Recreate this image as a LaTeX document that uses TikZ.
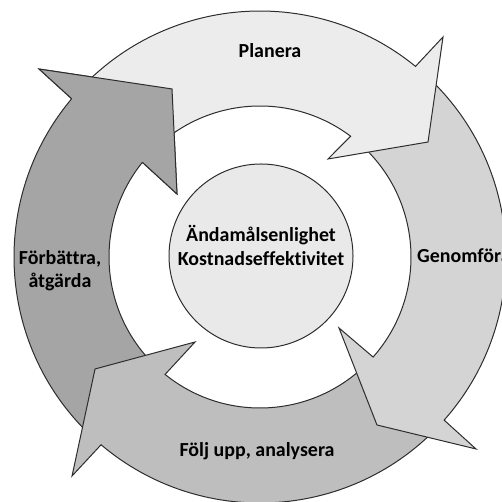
\documentclass[tikz,border=0pt]{standalone}
\usepackage{fontspec}
\setmainfont[Ligatures=NoCommon]{Carlito}
\definecolor{planfill}{RGB}{236,236,236}
\definecolor{genfill}{RGB}{212,212,212}
\definecolor{foljfill}{RGB}{190,190,190}
\definecolor{forbfill}{RGB}{165,165,165}
\definecolor{midfill}{RGB}{233,233,233}
\definecolor{edge}{RGB}{45,45,45}
\tikzset{
segment/.style={draw=edge, line width=1bp, line join=miter},
label/.style={font=\fontsize{20}{24}\selectfont\bfseries, inner sep=0pt, anchor=base}
}
\begin{document}
\begin{tikzpicture}[x=1bp, y=1bp]
\useasboundingbox (0,0) rectangle (502,502);
\begin{scope}[shift={(260,245)}]
% Förbättra, tail under the head of Följ upp
\draw[segment, fill=forbfill] (226:246) arc[start angle=226, end angle=139.96, radius=246] -- (139.61:290.1) -- (117.64:189.7) -- (142.8:104.2) -- (141.16:151) arc[start angle=141.16, end angle=226, radius=151] -- cycle;
% Följ upp
\draw[segment, fill=foljfill] (-44:246) arc[start angle=-44, end angle=-130.25, radius=246] -- (-130.64:288.6) -- (-145.83:199.4) -- (-127.4:107) -- (-128.95:151) arc[start angle=-128.95, end angle=-44, radius=151] -- cycle;
% Genomföra
\draw[segment, fill=genfill] (47:246) arc[start angle=47, end angle=-41.54, radius=246] -- (-41.63:289) -- (-55.15:204.7) -- (-41.94:106.2) -- (-41.5:151) arc[start angle=-41.5, end angle=47, radius=151] -- cycle;
% Planera
\draw[segment, fill=planfill] (136:246) arc[start angle=136, end angle=50.79, radius=246] -- (50.25:286.2) -- (34.39:203.6) -- (55.24:119.3) -- (53.13:151) arc[start angle=53.13, end angle=136, radius=151] -- cycle;
% head of Förbättra again, over the tail of Planera
\fill[forbfill] (139.96:246) -- (139.61:290.1) -- (117.64:189.7) -- (142.8:104.2) -- (141.16:151) -- cycle;
\draw[segment] (139.96:246) -- (139.61:290.1) -- (117.64:189.7) -- (142.8:104.2) -- (141.16:151);
\end{scope}
\draw[segment, fill=midfill] (261,246) circle [radius=92];
\node[label] (plan) at (270,444) {Planera};
\node[label] (gen) [anchor=base west] at (417,239) {Genomföra};
\node[label] (folj) at (257,45) {Följ upp, analysera};
\node[label] (forb1) at (60,237) {Förbättra,};
\node[label] (forb2) at (60,214) {åtgärda};
\node[label] (mid1) at (261,260) {Ändamålsenlighet};
\node[label] (mid2) at (261,236) {Kostnadseffektivitet};
\end{tikzpicture}
\end{document}
